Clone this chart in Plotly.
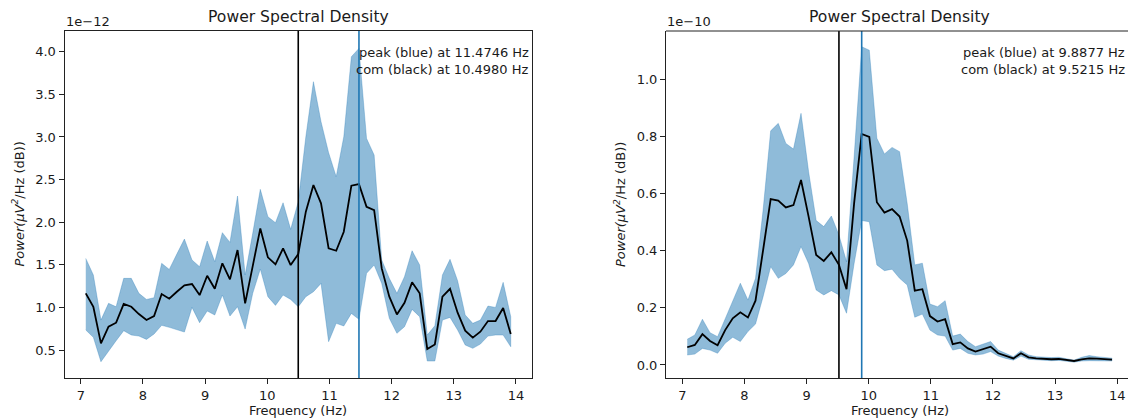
import plotly.graph_objects as go

# Frequency bins (Hz)
freqs = [7.0801, 7.2021, 7.3242, 7.4463, 7.5684, 7.6904, 7.8125, 7.9346, 8.0566, 8.1787,
         8.3008, 8.4229, 8.5449, 8.6670, 8.7891, 8.9111, 9.0332, 9.1553, 9.2773, 9.3994,
         9.5215, 9.6436, 9.7656, 9.8877, 10.0098, 10.1318, 10.2539, 10.3760, 10.4980, 10.6201,
         10.7422, 10.8643, 10.9863, 11.1084, 11.2305, 11.3525, 11.4746, 11.5967, 11.7188, 11.8408,
         11.9629, 12.0850, 12.2070, 12.3291, 12.4512, 12.5732, 12.6953, 12.8174, 12.9395, 13.0615,
         13.1836, 13.3057, 13.4277, 13.5498, 13.6719, 13.7939, 13.9160]

# Left panel, values in units of 1e-12
left_mean = [1.165, 1.008, 0.578, 0.774, 0.821, 1.040, 1.008, 0.922, 0.852, 0.899,
             1.157, 1.102, 1.184, 1.259, 1.274, 1.145, 1.372, 1.219, 1.517, 1.329,
             1.673, 1.048, 1.485, 1.927, 1.587, 1.505, 1.693, 1.497, 1.626, 2.123,
             2.436, 2.221, 1.693, 1.665, 1.888, 2.428, 2.447, 2.181, 2.142, 1.458,
             1.126, 0.918, 1.055, 1.294, 1.165, 0.512, 0.566, 1.126, 1.219, 0.938,
             0.727, 0.645, 0.715, 0.840, 0.840, 0.993, 0.688]
left_upper = [1.575, 1.380, 0.852, 1.048, 1.008, 1.341, 1.341, 1.165, 1.094, 1.114,
              1.517, 1.446, 1.626, 1.802, 1.556, 1.478, 1.779, 1.536, 1.877, 1.763,
              2.307, 1.380, 1.869, 2.385, 2.064, 1.994, 2.228, 1.916, 2.240, 3.003,
              3.648, 3.179, 2.815, 2.534, 3.003, 3.941, 4.039, 2.983, 2.788, 1.556,
              1.341, 1.165, 1.360, 1.665, 1.497, 0.676, 0.785, 1.380, 1.564, 1.313,
              0.911, 0.813, 0.852, 1.016, 1.000, 1.294, 0.891]
left_lower = [0.735, 0.649, 0.363, 0.480, 0.609, 0.727, 0.676, 0.664, 0.625, 0.688,
              0.790, 0.766, 0.743, 0.711, 1.000, 0.821, 0.958, 0.911, 1.145, 0.899,
              1.008, 0.746, 1.165, 1.450, 1.126, 1.024, 1.145, 1.094, 1.008, 1.126,
              1.184, 1.282, 0.598, 0.813, 0.782, 0.930, 0.860, 1.400, 1.497, 1.282,
              0.872, 0.696, 0.774, 0.977, 0.891, 0.371, 0.371, 0.852, 0.883, 0.735,
              0.559, 0.520, 0.570, 0.664, 0.676, 0.676, 0.539]
left_peak = 11.4746
left_com = 10.4980
left_exp = "1e\u221212"

# Right panel, values in units of 1e-10
right_mean = [0.062, 0.070, 0.108, 0.084, 0.069, 0.122, 0.163, 0.184, 0.166, 0.225,
              0.402, 0.580, 0.575, 0.551, 0.559, 0.647, 0.519, 0.385, 0.364, 0.394,
              0.350, 0.265, 0.565, 0.808, 0.798, 0.569, 0.533, 0.545, 0.519, 0.435,
              0.260, 0.265, 0.171, 0.152, 0.160, 0.073, 0.079, 0.058, 0.047, 0.055,
              0.064, 0.041, 0.031, 0.023, 0.041, 0.027, 0.023, 0.021, 0.020, 0.021,
              0.017, 0.014, 0.020, 0.023, 0.022, 0.021, 0.019]
right_upper = [0.090, 0.105, 0.160, 0.113, 0.099, 0.160, 0.221, 0.286, 0.227, 0.303,
               0.542, 0.819, 0.845, 0.775, 0.755, 0.880, 0.676, 0.505, 0.484, 0.521,
               0.455, 0.361, 0.728, 1.113, 1.101, 0.793, 0.738, 0.761, 0.746, 0.565,
               0.350, 0.356, 0.213, 0.204, 0.225, 0.101, 0.108, 0.082, 0.064, 0.073,
               0.082, 0.052, 0.041, 0.029, 0.050, 0.035, 0.029, 0.027, 0.026, 0.027,
               0.022, 0.017, 0.027, 0.033, 0.029, 0.027, 0.024]
right_lower = [0.035, 0.038, 0.058, 0.052, 0.041, 0.076, 0.097, 0.082, 0.117, 0.143,
               0.239, 0.344, 0.303, 0.320, 0.350, 0.414, 0.355, 0.262, 0.245, 0.260,
               0.245, 0.181, 0.355, 0.505, 0.501, 0.350, 0.330, 0.335, 0.303, 0.280,
               0.167, 0.178, 0.122, 0.105, 0.101, 0.052, 0.058, 0.041, 0.035, 0.038,
               0.047, 0.031, 0.023, 0.017, 0.031, 0.020, 0.017, 0.016, 0.015, 0.016,
               0.013, 0.010, 0.014, 0.015, 0.015, 0.015, 0.014]
right_peak = 9.8877
right_com = 9.5215
right_exp = "1e\u221210"

x_ticks = [7, 8, 9, 10, 11, 12, 13, 14]
left_yticks = [0.5, 1.0, 1.5, 2.0, 2.5, 3.0, 3.5, 4.0]
right_yticks = [0.0, 0.2, 0.4, 0.6, 0.8, 1.0]

W, H = 1128, 418
FONT = "DejaVu Sans"
BLUE = "#1f77b4"
FILL = "rgba(31,119,180,0.5)"
TXT = "#1a1a1a"


def px(x):
    return x / W


def py(y):
    return 1 - y / H


fig = go.Figure()

panels = [
    dict(mean=left_mean, up=left_upper, lo=left_lower, peak=left_peak, com=left_com,
         xa="x", ya="y", exp=left_exp),
    dict(mean=right_mean, up=right_upper, lo=right_lower, peak=right_peak, com=right_com,
         xa="x2", ya="y2", exp=right_exp),
]

for p in panels:
    fig.add_trace(go.Scatter(
        x=freqs + freqs[::-1], y=p["up"] + p["lo"][::-1],
        fill="toself", fillcolor=FILL, line=dict(width=0.6, color=FILL),
        mode="lines", hoverinfo="skip", showlegend=False,
        xaxis=p["xa"], yaxis=p["ya"]))
    fig.add_trace(go.Scatter(
        x=freqs, y=p["mean"], mode="lines",
        line=dict(color="black", width=1.8), showlegend=False,
        xaxis=p["xa"], yaxis=p["ya"]))
    fig.add_shape(type="line", xref=p["xa"], yref=p["ya"] + " domain",
                  x0=p["com"], x1=p["com"], y0=0, y1=1,
                  line=dict(color="black", width=1.6))
    fig.add_shape(type="line", xref=p["xa"], yref=p["ya"] + " domain",
                  x0=p["peak"], x1=p["peak"], y0=0, y1=1,
                  line=dict(color=BLUE, width=1.6))

# axes geometry (pixels)
L_X0, L_X1 = 64.5, 532
R_X0, R_X1 = 666, 1128
Y_TOP, Y_BOT = 31, 378

axis_common = dict(
    showgrid=False, zeroline=False, showline=True, linecolor="#222", linewidth=1,
    ticks="outside", ticklen=5, tickwidth=1, tickcolor="#222",
    tickfont=dict(family=FONT, size=13, color=TXT))

fig.update_layout(
    width=W, height=H, margin=dict(l=0, r=0, t=0, b=0),
    paper_bgcolor="white", plot_bgcolor="white",
    xaxis=dict(domain=[px(L_X0), px(L_X1)], range=[6.738, 14.258], anchor="y",
               tickvals=x_ticks, ticktext=[str(v) for v in x_ticks], mirror=True,
               **axis_common),
    yaxis=dict(domain=[py(Y_BOT), py(Y_TOP)], range=[0.172, 4.243], anchor="x",
               tickvals=left_yticks, ticktext=[f"{v:.1f}" for v in left_yticks],
               mirror=True, **axis_common),
    xaxis2=dict(domain=[px(R_X0), 1.0], range=[6.738, 14.174], anchor="y2",
                tickvals=x_ticks, ticktext=[str(v) for v in x_ticks], **axis_common),
    yaxis2=dict(domain=[py(Y_BOT), py(Y_TOP)], range=[-0.0455, 1.168], anchor="x2",
                tickvals=right_yticks, ticktext=[f"{v:.1f}" for v in right_yticks],
                **axis_common),
)

# top spine of the right panel (its right edge runs off the canvas)
fig.add_shape(type="line", xref="x2 domain", yref="y2 domain", x0=0, x1=1, y0=1, y1=1,
              line=dict(color="#222", width=1))

ann = []
for x0, x1, p in [(L_X0, L_X1, panels[0]), (R_X0, 1133.4, panels[1])]:
    cx = (x0 + x1) / 2
    ann.append(dict(text="Power Spectral Density", x=px(cx), y=py(16.5), xref="paper",
                    yref="paper", xanchor="center", yanchor="middle", showarrow=False,
                    font=dict(family=FONT, size=15.6, color=TXT)))
    ann.append(dict(text=p["exp"], x=px(x0 - 1), y=py(21.5), xref="paper", yref="paper",
                    xanchor="left", yanchor="middle", showarrow=False,
                    font=dict(family=FONT, size=13, color=TXT)))
    ann.append(dict(text="Frequency (Hz)", x=px(cx), y=py(410.5), xref="paper",
                    yref="paper", xanchor="center", yanchor="middle", showarrow=False,
                    font=dict(family=FONT, size=13, color=TXT)))
    ann.append(dict(text="<i>Power(\u03bcV<sup>2</sup></i>/Hz (dB))", x=px(x0 - 46.5),
                    y=py((Y_TOP + Y_BOT) / 2), xref="paper", yref="paper",
                    xanchor="center", yanchor="middle", textangle=-90, showarrow=False,
                    font=dict(family=FONT, size=13, color=TXT)))

for xr, p in [(530.5, panels[0]), (1126.5, panels[1])]:
    ann.append(dict(text=f"peak (blue) at {p['peak']:.4f} Hz", x=px(xr), y=py(52.5),
                    xref="paper", yref="paper", xanchor="right", yanchor="middle",
                    showarrow=False, font=dict(family=FONT, size=13, color=TXT)))
    ann.append(dict(text=f"com (black) at {p['com']:.4f} Hz", x=px(xr), y=py(69),
                    xref="paper", yref="paper", xanchor="right", yanchor="middle",
                    showarrow=False, font=dict(family=FONT, size=13, color=TXT)))

fig.update_layout(annotations=ann)

fig.write_html("out.html")
